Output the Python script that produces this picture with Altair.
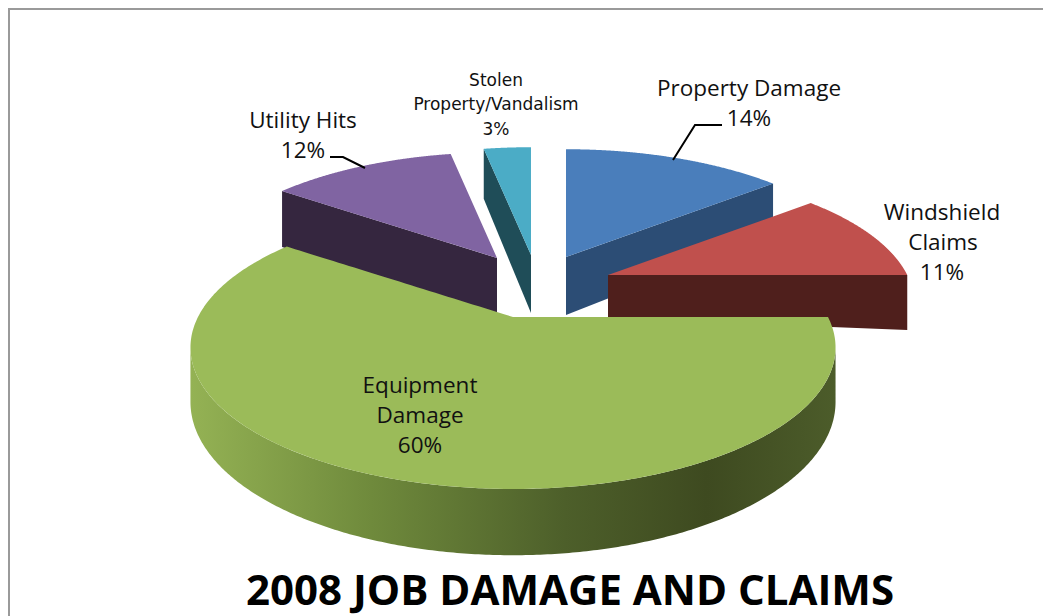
import numpy as np
import pandas as pd
import altair as alt

# --- chart values
names = ["Property Damage", "Windshield Claims", "Equipment Damage", "Utility Hits", "Stolen Property/Vandalism"]
shares = [14, 11, 60, 12, 3]
top_colors = ["#4a7ebb", "#c0504d", "#9bbb59", "#8064a2", "#4bacc6"]
side_colors = ["#2c4d75", "#4f1f1c", "#55682e", "#35263f", "#1f4d58"]

# --- exploded-slice layout, in the picture's own units
centre_x = [566, 608, 513, 497, 531]
centre_y = [257, 275, 317, 258, 255]
slice_scale = [0.97, 0.95, 1.0, 0.95, 0.97]
depth_at_centre = [58, 43, 52, 57, 58]
depth_at_rim = [50, 55, 52, 56, 50]
draw_order = [4, 3, 0, 1, 2]

RX, RY, K, GREEN_DEPTH = 315.0, 135.0, 0.215, 52.0

label_text = ["Property Damage", "14%", "Windshield", "Claims", "11%", "Utility  Hits", "12%",
              "Equipment", "Damage", "60%"]
label_x = [749, 749, 942, 943, 942, 303, 303, 420, 420, 420]
label_y = [89, 119, 213, 243, 273, 121, 151, 386, 416, 446]

small_text = ["Stolen", "Property/Vandalism", "3%"]
small_x = [496, 496, 496]
small_y = [81, 105, 130]

leader_group = ["p", "p", "p", "u", "u", "u"]
leader_x = [722, 695, 673, 330, 343, 365]
leader_y = [125, 125, 160, 157, 157, 168]

title_text = "2008 JOB DAMAGE AND CLAIMS"

X_SCALE = alt.Scale(domain=[8, 1043], nice=False, zero=False)
Y_SCALE = alt.Scale(domain=[616, 8], nice=False, zero=False)
XE = alt.X("x:Q", scale=X_SCALE, axis=None)
YE = alt.Y("y:Q", scale=Y_SCALE, axis=None)


def project(theta, i):
    u, v = np.sin(theta), -np.cos(theta)
    p = 1.0 / (1.0 - K * v)
    s = slice_scale[i]
    return centre_x[i] + s * RX * u * p, centre_y[i] + s * RY * v * p, p


def wedge_spans(i, a0, a1):
    """Vertical spans (x, y, y2) of a slice's top face, so that it draws as an area."""
    th = np.radians(np.linspace(a0, a1, 240))
    px, py, _ = project(th, i)
    px = np.r_[centre_x[i], px, centre_x[i]]
    py = np.r_[centre_y[i], py, centre_y[i]]
    xs = np.unique(np.round(px, 2))
    xs = np.unique(np.r_[xs[0] + 0.02, xs[1:-1] + 0.01, xs[-1] - 0.02, centre_x[i] - 0.02, centre_x[i] + 0.02])
    xs = xs[(xs >= px.min()) & (xs <= px.max())]
    rows = []
    for x in xs:
        mask = (px[:-1] - x) * (px[1:] - x) <= 0
        idx = np.where(mask & (px[:-1] != px[1:]))[0]
        if len(idx) < 2:
            continue
        ys = py[idx] + (x - px[idx]) * (py[idx + 1] - py[idx]) / (px[idx + 1] - px[idx])
        rows.append({"x": float(x), "y": float(ys.min()), "y2": float(ys.max())})
    return pd.DataFrame(rows)


def area_layer(df, color):
    return alt.Chart(df).mark_area(color=color, opacity=1, line=False, interpolate="linear").encode(
        x=XE, y=YE, y2="y2:Q")


# cumulative angle boundaries (clockwise from the back of the pie)
edges = np.cumsum([0] + shares) * 3.6
layers = []

# radial cut faces that can be seen for each slice
radial_edge = {0: edges[1], 1: edges[2], 3: edges[3], 4: edges[4]}

for i in draw_order:
    a0, a1 = edges[i], edges[i + 1]
    if i == 2:
        # curved wall of the big slice, shaded along its length
        lim = np.degrees(np.arccos(-K))
        th = np.radians(np.linspace(lim, 360 - lim, 300))
        x, y, p = project(th, i)
        order = np.argsort(x)
        wall = pd.DataFrame({"x": x[order], "y": y[order], "y2": (y + GREEN_DEPTH * p)[order]})
        grad = alt.Gradient(
            gradient="linear", x1=0, x2=1, y1=0, y2=0,
            stops=[alt.GradientStop(offset=0.0, color="#94b254"),
                   alt.GradientStop(offset=0.28, color="#6f8a3c"),
                   alt.GradientStop(offset=0.58, color="#4d5f2a"),
                   alt.GradientStop(offset=0.80, color="#3e4a20"),
                   alt.GradientStop(offset=1.0, color="#4c5c2a")])
        layers.append(area_layer(wall, grad))
    else:
        ex, ey, _ = project(np.radians(radial_edge[i]), i)
        xs = sorted([float(centre_x[i]), float(ex)])
        f = lambda xv: centre_y[i] + (xv - centre_x[i]) / (ex - centre_x[i]) * (ey - centre_y[i])
        d = lambda xv: depth_at_centre[i] + (xv - centre_x[i]) / (ex - centre_x[i]) * (depth_at_rim[i] - depth_at_centre[i])
        face = pd.DataFrame({"x": xs, "y": [f(v) for v in xs], "y2": [f(v) + d(v) for v in xs]})
        layers.append(area_layer(face, side_colors[i]))
    layers.append(area_layer(wedge_spans(i, a0, a1), top_colors[i]))

labels = pd.DataFrame({"t": label_text, "x": label_x, "y": label_y})
layers.append(alt.Chart(labels).mark_text(font="Open Sans", fontSize=22.5, color="#111111",
                                          baseline="middle", align="center").encode(x=XE, y=YE, text="t:N"))

small = pd.DataFrame({"t": small_text, "x": small_x, "y": small_y})
layers.append(alt.Chart(small).mark_text(font="DejaVu Sans", fontSize=17, color="#111111",
                                         baseline="middle", align="center").encode(x=XE, y=YE, text="t:N"))

leaders = pd.DataFrame({"g": leader_group, "x": leader_x, "y": leader_y, "o": range(len(leader_x))})
layers.append(alt.Chart(leaders).mark_line(color="#000000", strokeWidth=2).encode(
    x=XE, y=YE, detail="g:N", order="o:Q"))

frame = pd.DataFrame({"g": ["f", "f", "f"], "x": [9, 9, 1043], "y": [616, 9, 9], "o": [0, 1, 2]})
layers.append(alt.Chart(frame).mark_line(color="#9a9a9a", strokeWidth=2).encode(
    x=XE, y=YE, detail="g:N", order="o:Q"))

layers.append(alt.Chart(pd.DataFrame({"t": [title_text], "x": [570], "y": [592]})).mark_text(
    font="Open Sans", fontSize=42, fontWeight="bold", color="#000000", baseline="middle", align="center"
).encode(x=XE, y=YE, text="t:N"))

chart = alt.layer(*layers).properties(
    width=1035, height=608, padding=0, background="#ffffff",
    autosize=alt.AutoSizeParams(type="none")
).configure_view(stroke=None)

chart.save("out.html", embed_options={"renderer": "svg", "actions": False})
